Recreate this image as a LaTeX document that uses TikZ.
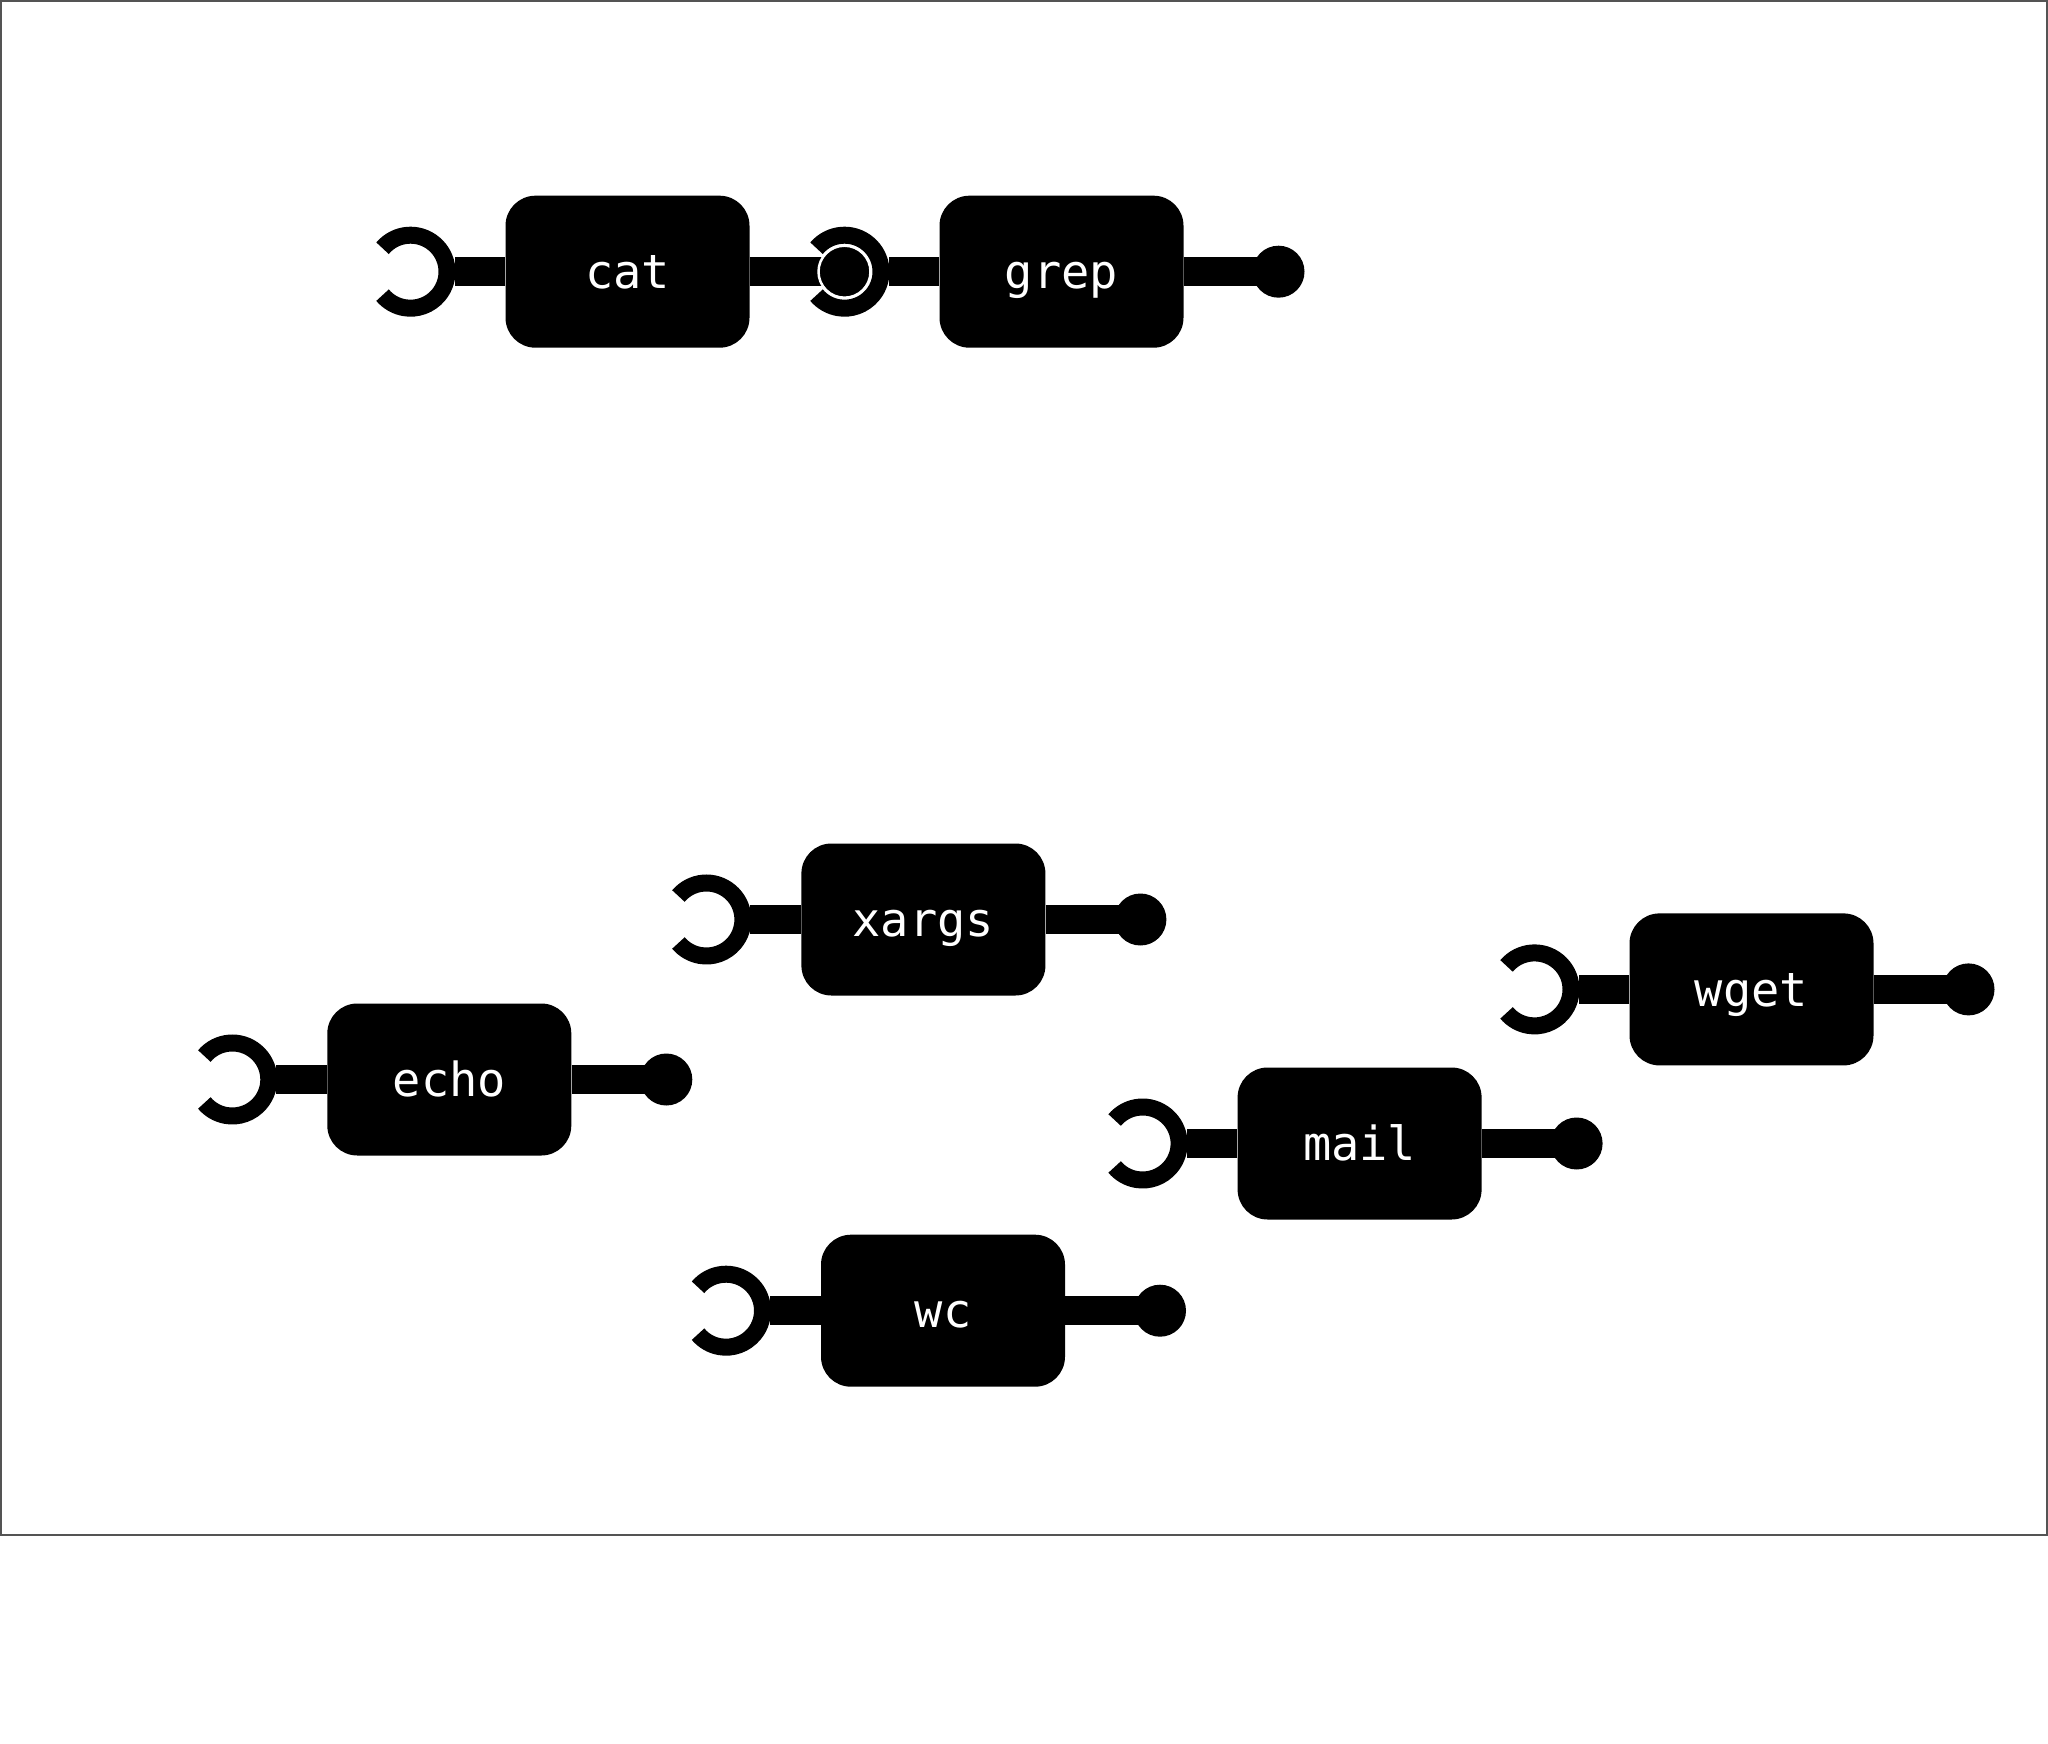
\documentclass[tikz,border=0pt]{standalone}
\usepackage{fontspec}
\setmonofont{DejaVu Sans Mono}
\usetikzlibrary{calc}
\tikzset{
  cmd/.style={fill=black, text=white, rounded corners=30pt, minimum width=244pt, minimum height=152pt, inner sep=0pt, text height=34pt, text depth=0pt, font=\ttfamily\fontsize{47}{52}\selectfont},
  bar/.style={line width=29pt, line cap=butt, draw=black},
  ring/.style={line width=17pt, line cap=butt, draw=black},
  plugdot/.style={fill=black},
  plugjoin/.style={fill=black, draw=white, line width=2.5pt},
  frame/.style={draw=black!67, line width=2pt}
}
\newcommand{\component}[3]{%
  \node[cmd] (#1) at (#2) {#3};
  \coordinate (#1in) at ($(#1)+(-217pt,0)$);
  \coordinate (#1out) at ($(#1)+(217pt,0)$);
  \draw[bar, shorten >=44pt] (#1.west) -- (#1in);
  \draw[ring] (#1in) ++(140:36.5pt) arc[start angle=140, end angle=-140, radius=36.5pt];
}
\newcommand{\plugout}[1]{%
  \draw[bar] (#1.east) -- (#1out);
  \fill[plugdot] (#1out) circle[radius=26pt];
}
\begin{document}
\begin{tikzpicture}[x=1pt, y=-1pt]
\useasboundingbox (0,0) rectangle (2048,1744);
\fill[white] (0,0) rectangle (2048,1744);
\draw[frame] (1,1) rectangle (2047,1535);

\component{cat}{627.5,271.7}{cat}
\component{grep}{1061.5,271.7}{grep}
\component{xargs}{923.4,919.5}{xargs}
\component{echo}{449.3,1079.5}{echo}
\component{wget}{1751.5,989.4}{wget}
\component{mail}{1359.6,1143.5}{mail}
\component{wc}{943,1310.7}{wc}

\plugout{grep}
\plugout{xargs}
\plugout{echo}
\plugout{wget}
\plugout{mail}
\plugout{wc}

% cat plugs into grep's socket
\draw[bar] (cat.east) -- (catout);
\draw[plugjoin] (catout) circle[radius=26pt];
\end{tikzpicture}
\end{document}
